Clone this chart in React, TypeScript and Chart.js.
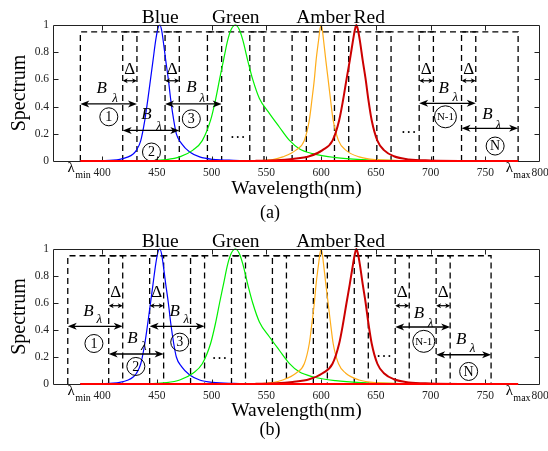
import React, { useEffect, useRef } from 'react';
import { Chart, registerables } from 'chart.js';

Chart.register(...registerables);

const FONT = "'Liberation Serif', 'Times New Roman', serif";
const AXIS_COLOR = '#222222';

// ---- axes ----
const xTicks = [400, 450, 500, 550, 600, 650, 700, 750, 800];
const yTicks = [0, 0.2, 0.4, 0.6, 0.8, 1];
const yTickLabels = ['0', '0.2', '0.4', '0.6', '0.8', '1'];
const xRange = [355, 800];

// ---- LED spectra (wavelength nm, normalised value) ----
const blueSpectrum = [
  [380, 0], [400, 0.003], [410, 0.006], [416, 0.012], [423.7, 0.03], [428, 0.05], [431.3, 0.08],
  [435.2, 0.15], [438.9, 0.3], [441.6, 0.45], [444.1, 0.6], [446.4, 0.74], [448.9, 0.89],
  [451, 0.98], [452.6, 1.0], [454.3, 0.96], [455.6, 0.89], [458, 0.74], [460.4, 0.6],
  [462.6, 0.45], [465.3, 0.3], [467.7, 0.2], [472.3, 0.13], [479.9, 0.066], [489, 0.03],
  [501, 0.012], [520, 0.005], [560, 0.002], [640, 0],
];
const greenSpectrum = [
  [440, 0.002], [458.6, 0.01], [470.8, 0.03], [482.9, 0.08], [491.4, 0.15], [499, 0.3],
  [503.5, 0.45], [507.2, 0.6], [510.8, 0.74], [514.7, 0.89], [518, 0.97], [521.7, 1.0],
  [525, 0.97], [528.4, 0.89], [532.9, 0.74], [537.5, 0.6], [543.6, 0.46], [552.7, 0.35],
  [561.8, 0.25], [570.9, 0.153], [580, 0.09], [592.2, 0.054], [613.4, 0.025], [637.7, 0.01],
  [660, 0.004], [700, 0],
];
const amberSpectrum = [
  [540, 0.002], [555.8, 0.01], [564.9, 0.03], [577, 0.08], [584.6, 0.15], [589.2, 0.3],
  [591.6, 0.45], [593.8, 0.6], [595.4, 0.74], [597.7, 0.89], [599, 0.97], [600, 1.0],
  [601, 0.97], [602.2, 0.89], [604.3, 0.74], [606.4, 0.6], [608.6, 0.45], [611, 0.3],
  [615.9, 0.15], [622.5, 0.08], [634.7, 0.03], [649.8, 0.01], [680, 0.003], [720, 0],
];
const redSpectrum = [
  [540, 0.002], [558.9, 0.005], [574, 0.015], [589.2, 0.035], [601.3, 0.08], [610.4, 0.15],
  [616.5, 0.3], [620.1, 0.45], [623.2, 0.6], [626.2, 0.74], [629.2, 0.89], [631, 0.97],
  [632.2, 1.0], [633.5, 0.97], [635.3, 0.89], [638, 0.74], [640.7, 0.6], [643.2, 0.45],
  [646.2, 0.3], [651.4, 0.15], [657.4, 0.08], [666.5, 0.035], [680.1, 0.012], [700, 0.004],
  [740, 0],
];
const redBaseline = [[380, 0], [780, 0]];

const peakLabels = ['Blue', 'Green', 'Amber', 'Red'];
const peakLabelX = [453, 522, 602, 644];
const edgeLabelX = [371.6, 772];
const edgeLabelSub = ['min', 'max'];

// ---- band windows ----
const bandTop = 0.95;
const circleLabels = ['1', '2', '3', 'N-1', 'N'];
const arrowBands = [0, 1, 2, 8, 9];
const deltaBands = [0, 1, 7, 8];

// panel (a)
const bandStartA = [380, 418.7, 457.4, 496.1, 534.8, 573.5, 612.2, 650.9, 689.6, 728.3];
const bandEndA = [431.7, 470.4, 509.1, 547.8, 586.5, 625.2, 663.9, 702.6, 741.3, 780];
const arrowYA = [0.42, 0.225, 0.42, 0.424, 0.24];
const circlePosA = [[406, 0.325], [445, 0.066], [481.4, 0.31], [713.6, 0.325], [759, 0.11]];
const bPosA = [[399.5, 0.535], [440.4, 0.34], [481.4, 0.54], [712, 0.535], [752, 0.34]];
const lambdaPosA = [[411.6, 0.46], [451.9, 0.256], [491.4, 0.46], [722.7, 0.468], [762, 0.264]];
const deltaYA = [0.59, 0.67];
const dotsA = [[523.8, 0.2], [680, 0.24]];

// panel (b)
const bandStartB = [368.5, 405.9, 443.3, 480.7, 518.1, 555.5, 592.9, 630.3, 667.7, 705.1];
const bandEndB = [418.7, 456.1, 493.5, 530.9, 568.3, 605.7, 643.1, 680.5, 717.9, 755.3];
const arrowYB = [0.427, 0.222, 0.427, 0.422, 0.217];
const circlePosB = [[392.4, 0.3], [430.7, 0.13], [470.8, 0.31], [693.8, 0.316], [734.8, 0.093]];
const bPosB = [[387.3, 0.538], [427.7, 0.34], [466.2, 0.538], [689.3, 0.52], [728.1, 0.333]];
const lambdaPosB = [[397.3, 0.476], [438, 0.28], [476.8, 0.476], [700, 0.447], [738.4, 0.26]];
const deltaYB = [0.58, 0.68];
const dotsB = [[507.2, 0.217], [657.4, 0.234]];

type Spec = {
  panel: string;
  bandStart: number[];
  bandEnd: number[];
  arrowY: number[];
  circlePos: number[][];
  bPos: number[][];
  lambdaPos: number[][];
  deltaY: number[];
  dots: number[][];
  height: number;
  xHeight: number;
  xTitlePad: number;
  titlePad: number;
};

const specA: Spec = {
  panel: '(a)', bandStart: bandStartA, bandEnd: bandEndA, arrowY: arrowYA, circlePos: circlePosA,
  bPos: bPosA, lambdaPos: lambdaPosA, deltaY: deltaYA, dots: dotsA,
  height: 224, xHeight: 43, xTitlePad: 5, titlePad: 2,
};
const specB: Spec = {
  panel: '(b)', bandStart: bandStartB, bandEnd: bandEndB, arrowY: arrowYB, circlePos: circlePosB,
  bPos: bPosB, lambdaPos: lambdaPosB, deltaY: deltaYB, dots: dotsB,
  height: 227, xHeight: 37, xTitlePad: 0, titlePad: 12,
};

const toXY = (arr: number[][]) => arr.map(([x, y]) => ({ x, y }));

function arrowHead(ctx: CanvasRenderingContext2D, tipX: number, y: number, dir: number, L: number, W: number) {
  ctx.beginPath();
  ctx.moveTo(tipX, y);
  ctx.lineTo(tipX - dir * L, y - W / 2);
  ctx.lineTo(tipX - dir * L * 0.72, y);
  ctx.lineTo(tipX - dir * L, y + W / 2);
  ctx.closePath();
  ctx.fill();
}

function doubleArrow(ctx: CanvasRenderingContext2D, x1: number, x2: number, y: number, L: number, W: number, lw: number) {
  ctx.lineWidth = lw;
  ctx.beginPath();
  ctx.moveTo(x1 + L * 0.5, y);
  ctx.lineTo(x2 - L * 0.5, y);
  ctx.stroke();
  arrowHead(ctx, x1, y, -1, L, W);
  arrowHead(ctx, x2, y, 1, L, W);
}

function drawFrame(chart: any) {
  const ctx: CanvasRenderingContext2D = chart.ctx;
  const area = chart.chartArea;
  const xs = chart.scales.x;
  const ys = chart.scales.y;
  const L = Math.round(area.left) + 0.5;
  const R = Math.round(area.right) - 0.5;
  const T = Math.round(area.top) + 0.5;
  const B = Math.round(area.bottom) + 0.5;
  ctx.save();
  ctx.setLineDash([]);
  ctx.globalAlpha = 1;
  ctx.strokeStyle = AXIS_COLOR;
  ctx.lineWidth = 1;
  ctx.beginPath();
  ctx.rect(L, T, R - L, B - T);
  ctx.stroke();
  ctx.beginPath();
  xTicks.forEach((v) => {
    const px = Math.round(xs.getPixelForValue(v)) + 0.5;
    if (px <= L + 1 || px >= R - 1) return;
    ctx.moveTo(px, B);
    ctx.lineTo(px, B - 5);
    ctx.moveTo(px, T);
    ctx.lineTo(px, T + 5);
  });
  yTicks.forEach((v) => {
    const py = Math.round(ys.getPixelForValue(v)) + 0.5;
    if (py <= T + 1 || py >= B - 1) return;
    ctx.moveTo(L, py);
    ctx.lineTo(L + 5, py);
    ctx.moveTo(R, py);
    ctx.lineTo(R - 5, py);
  });
  ctx.stroke();
  ctx.restore();
}

function makePlugin(spec: Spec) {
  return {
    id: 'annot' + spec.panel.replace(/[()]/g, ''),
    afterDraw(chart: any) {
      drawFrame(chart);
      // keep the zero baseline above the axis frame
      const meta = chart.getDatasetMeta(0);
      if (meta && meta.controller) meta.controller.draw();
    },
    afterDatasetsDraw(chart: any) {
      const ctx: CanvasRenderingContext2D = chart.ctx;
      const { top, bottom } = chart.chartArea;
      const X = (v: number) => chart.scales.x.getPixelForValue(v);
      const Y = (v: number) => chart.scales.y.getPixelForValue(v);
      ctx.save();
      ctx.setLineDash([]);
      ctx.fillStyle = '#000';
      ctx.strokeStyle = '#000';

      // peak labels above plot
      ctx.font = `19.5px ${FONT}`;
      ctx.textAlign = 'center';
      ctx.textBaseline = 'alphabetic';
      peakLabels.forEach((t, i) => ctx.fillText(t, X(peakLabelX[i]), top - 2.5));

      // lambda min / max
      edgeLabelX.forEach((v, i) => {
        const cx = X(v);
        ctx.font = `15px ${FONT}`;
        ctx.textAlign = 'center';
        ctx.fillText('λ', cx, bottom + 11);
        ctx.font = `10px ${FONT}`;
        ctx.textAlign = 'left';
        ctx.fillText(edgeLabelSub[i], cx + 4, bottom + 16.5);
      });

      // B lambda arrows
      arrowBands.forEach((b, i) => {
        const x1 = X(spec.bandStart[b]);
        const x2 = X(spec.bandEnd[b]);
        const y = Y(spec.arrowY[i]);
        doubleArrow(ctx, x1, x2, y, 9, 7, 1.4);
        ctx.textAlign = 'center';
        ctx.textBaseline = 'middle';
        ctx.font = `italic 17px ${FONT}`;
        ctx.fillText('B', X(spec.bPos[i][0]), Y(spec.bPos[i][1]));
        ctx.font = `italic 13px ${FONT}`;
        ctx.fillText('λ', X(spec.lambdaPos[i][0]), Y(spec.lambdaPos[i][1]));
        const cx = X(spec.circlePos[i][0]);
        const cy = Y(spec.circlePos[i][1]);
        const lab = circleLabels[i];
        ctx.lineWidth = 1;
        ctx.beginPath();
        ctx.arc(cx, cy, lab.length > 1 ? 11 : 9, 0, Math.PI * 2);
        ctx.stroke();
        ctx.font = lab.length > 1 ? `11px ${FONT}` : `14px ${FONT}`;
        ctx.fillText(lab, cx, cy + 0.5);
      });

      // Delta overlaps
      deltaBands.forEach((b) => {
        const x1 = X(spec.bandStart[b + 1]);
        const x2 = X(spec.bandEnd[b]);
        const y = Y(spec.deltaY[0]);
        doubleArrow(ctx, x1, x2, y, 5, 5, 1.2);
        ctx.font = `17px ${FONT}`;
        ctx.textAlign = 'center';
        ctx.textBaseline = 'middle';
        ctx.fillText('Δ', (x1 + x2) / 2, Y(spec.deltaY[1]));
      });

      // ellipses
      ctx.font = `16px ${FONT}`;
      ctx.textAlign = 'center';
      ctx.textBaseline = 'middle';
      spec.dots.forEach(([v, y]) => ctx.fillText('…', X(v), Y(y)));
      ctx.restore();
    },
  };
}

function Panel({ spec, top }: { spec: Spec; top: number }) {
  const ref = useRef<HTMLCanvasElement>(null);
  useEffect(() => {
    if (!ref.current) return;
    const bands = spec.bandStart.map((s, i) => ({
      data: toXY([[s, 0], [s, bandTop], [spec.bandEnd[i], bandTop], [spec.bandEnd[i], 0]]),
      borderColor: '#000',
      borderWidth: 1.3,
      borderDash: [6, 4],
      pointRadius: 0,
      tension: 0,
      order: 5,
      clip: false as const,
    }));
    const curve = (arr: number[][], color: string, width: number, order: number) => ({
      data: toXY(arr),
      borderColor: color,
      borderWidth: width,
      pointRadius: 0,
      cubicInterpolationMode: 'monotone' as const,
      order,
      clip: false as const,
    });
    const datasets: any[] = [
      curve(redBaseline, '#ff0000', 2, 0),
      curve(redSpectrum, '#cc0000', 2, 1),
      curve(amberSpectrum, '#ffad1a', 1.2, 2),
      curve(greenSpectrum, '#00f000', 1.2, 3),
      curve(blueSpectrum, '#0000ff', 1.2, 4),
      ...bands,
    ];
    const chart = new Chart(ref.current, {
      type: 'line',
      data: { datasets },
      options: {
        animation: false,
        responsive: false,
        devicePixelRatio: 1,
        layout: { padding: { top: 25, right: 8, left: 0, bottom: 0 } },
        plugins: {
          legend: { display: false },
          tooltip: { enabled: false },
          title: {
            display: true,
            position: 'bottom',
            text: spec.panel,
            color: '#000',
            font: { family: FONT, size: 18, weight: 'normal', lineHeight: 1 },
            padding: { top: 0, bottom: spec.titlePad },
          },
        },
        scales: {
          x: {
            type: 'linear',
            min: xRange[0],
            max: xRange[1],
            afterBuildTicks: (s: any) => { s.ticks = xTicks.map((v) => ({ value: v })); },
            afterFit: (s: any) => {
              s.height = spec.xHeight;
              s.paddingLeft = 0;
              s.paddingRight = 0;
            },
            grid: { display: false, drawTicks: false, tickLength: 0 },
            border: { display: false },
            ticks: {
              color: AXIS_COLOR,
              font: { family: FONT, size: 11.5 },
              padding: 5,
              maxRotation: 0,
              autoSkip: false,
              callback: (v: any) => String(v),
            },
            title: {
              display: true,
              text: 'Wavelength(nm)',
              color: '#000',
              font: { family: FONT, size: 19.5, lineHeight: 1 },
              padding: { top: 0, bottom: spec.xTitlePad },
            },
          },
          y: {
            type: 'linear',
            min: 0,
            max: 1,
            afterBuildTicks: (s: any) => { s.ticks = yTicks.map((v) => ({ value: v })); },
            afterFit: (s: any) => {
              s.width = 53;
              s.paddingTop = 0;
              s.paddingBottom = 0;
            },
            grid: { display: false, drawTicks: false, tickLength: 0 },
            border: { display: false },
            ticks: {
              color: AXIS_COLOR,
              font: { family: FONT, size: 11.5 },
              padding: 4,
              autoSkip: false,
              callback: (_v: any, i: number) => yTickLabels[i],
            },
            title: {
              display: true,
              text: 'Spectrum',
              color: '#000',
              font: { family: FONT, size: 20, lineHeight: 1 },
              padding: { top: 10, bottom: 0 },
            },
          },
        },
      } as any,
      plugins: [makePlugin(spec)],
    });
    return () => chart.destroy();
  }, [spec]);
  return (
    <div style={{ position: 'absolute', left: 0, top, width: 548, height: spec.height }}>
      <canvas ref={ref} width={548} height={spec.height} style={{ display: 'block' }} />
    </div>
  );
}

export default function App() {
  return (
    <div style={{ position: 'absolute', left: 0, top: 0, width: 548, height: 451, background: '#fff' }}>
      <Panel spec={specA} top={0} />
      <Panel spec={specB} top={224} />
    </div>
  );
}
